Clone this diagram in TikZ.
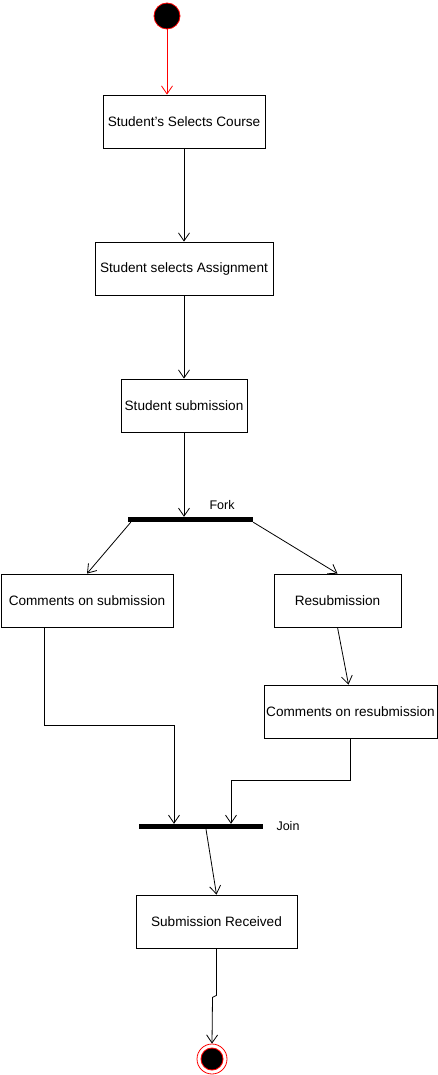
\documentclass[tikz,border=0pt]{standalone}
\usepackage{fontspec}
\setmainfont{Liberation Sans}
\usetikzlibrary{arrows.meta}
\begin{document}
\begin{tikzpicture}[
  x=1pt, y=-1pt,
  action/.style={draw, line width=0.8pt, fill=white, minimum height=53pt, inner sep=1pt, font=\fontsize{13.6}{16}\selectfont},
  bar/.style={fill=black, minimum width=125pt, minimum height=5pt, inner sep=0pt},
  barlabel/.style={font=\fontsize{12.5}{15}\selectfont},
  initial/.style={circle, draw=red, fill=black, line width=0.8pt, minimum size=26pt, inner sep=0pt},
  final/.style={circle, draw=red, fill=white, line width=0.8pt, minimum size=30pt, inner sep=0pt,
    path picture={\fill[red] (path picture bounding box.center) circle (11.5pt);
                  \fill[black] (path picture bounding box.center) circle (10.5pt);}},
  arrow/.style={-{Straight Barb[length=8pt,width=11pt]}, line width=0.8pt}
]
\useasboundingbox (0,0) rectangle (437,1075);
\node[initial] (start) at (167,16) {};
\node[action, minimum width=162pt] (course) at (184,121.5) {Student's Selects Course};
\node[action, minimum width=178pt] (assignment) at (184,268.5) {Student selects Assignment};
\node[action, minimum width=126pt] (submission) at (184,405.5) {Student submission};
\node[bar] (fork) at (190.5,519.5) {};
\node[barlabel] (forklabel) at (222,505) {Fork};
\node[action, minimum width=172pt] (comments) at (87,600.5) {Comments on submission};
\node[action, minimum width=127pt] (resub) at (337.5,600.5) {Resubmission};
\node[action, minimum width=173pt] (recomments) at (350.5,711.5) {Comments on resubmission};
\node[bar, minimum width=124pt] (join) at (201,826.5) {};
\node[barlabel] (joinlabel) at (288,826) {Join};
\node[action, minimum width=161pt] (received) at (216.5,921.5) {Submission Received};
\node[final] (finish) at (212,1059) {};
\draw[arrow, red] (start) -- (start |- course.north);
\draw[arrow] (course) -- (assignment);
\draw[arrow] (assignment) -- (submission);
\draw[arrow] (submission.south) -- (submission.south |- fork.north);
\draw[arrow] ([xshift=3pt]fork.south west) -- (comments.north);
\draw[arrow] (fork.south east) -- (resub.north);
\draw[arrow] (resub.south) -- ([xshift=-2pt]recomments.north);
\draw[arrow] ([xshift=-43pt]comments.south) -- ++(0,98) -| ([xshift=-27pt]join.north);
\draw[arrow] (recomments.south) -- ++(0,42) -| ([xshift=30pt]join.north);
\draw[arrow] ([xshift=5pt]join.south) -- (received.north);
\draw[arrow] (received.south) -- ++(0,47) -- ++(-4,2) -- (finish.north);
\end{tikzpicture}
\end{document}
